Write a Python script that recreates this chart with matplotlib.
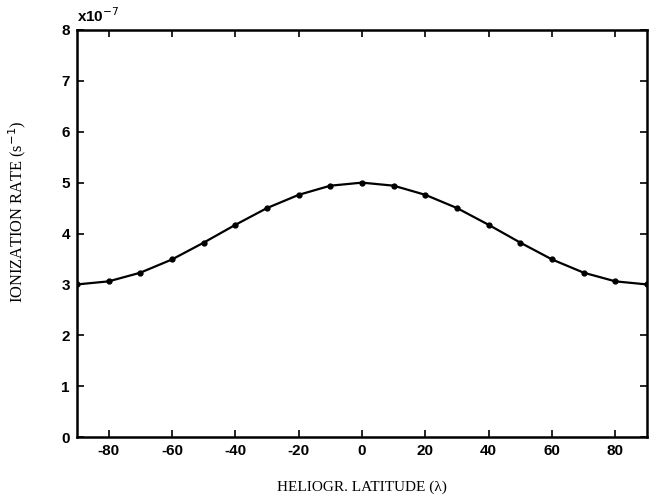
import numpy as np
import matplotlib.pyplot as plt

plt.rcParams['axes.unicode_minus'] = False

# heliographic latitude (deg) and ionization rate (units of 1e-7 s^-1)
latitude = [-90, -80, -70, -60, -50, -40, -30, -20, -10, 0,
            10, 20, 30, 40, 50, 60, 70, 80, 90]
rate = [3.00, 3.06, 3.23, 3.49, 3.82, 4.17, 4.50, 4.76, 4.94, 5.00,
        4.94, 4.76, 4.50, 4.17, 3.82, 3.49, 3.23, 3.06, 3.00]

xticks = [-80, -60, -40, -20, 0, 20, 40, 60, 80]
yticks = [0, 1, 2, 3, 4, 5, 6, 7, 8]


def main():
    fig = plt.figure(figsize=(6.57, 4.99), dpi=100)
    ax = fig.add_axes([0.117, 0.124, 0.868, 0.816])

    ax.plot(latitude, rate, color='black', linewidth=1.6,
            marker='o', markersize=3.5, markerfacecolor='black')

    ax.set_xlim(-90, 90)
    ax.set_ylim(0, 8)
    ax.set_xticks(xticks)
    ax.set_yticks(yticks)
    ax.tick_params(direction='in', length=5, width=1.2, top=True, right=True,
                   labelsize=11, pad=5)
    for lab in ax.get_xticklabels() + ax.get_yticklabels():
        lab.set_fontfamily('Liberation Sans')
        lab.set_fontweight('bold')
    for sp in ax.spines.values():
        sp.set_linewidth(1.8)

    ax.set_xlabel('HELIOGR. LATITUDE (\u03bb)', family='Liberation Serif',
                  fontsize=11, labelpad=16)
    ax.set_ylabel('IONIZATION RATE (s$^{-1}$)', family='Liberation Serif',
                  fontsize=11.8)
    ax.yaxis.set_label_coords(-0.085, 0.553)
    fig.text(0.117, 0.968, 'x10$^{-7}$', family='Liberation Sans',
             fontweight='bold', fontsize=11, ha='left', va='center')

    fig.savefig('out.png', dpi=100)


if __name__ == "__main__":
    main()
